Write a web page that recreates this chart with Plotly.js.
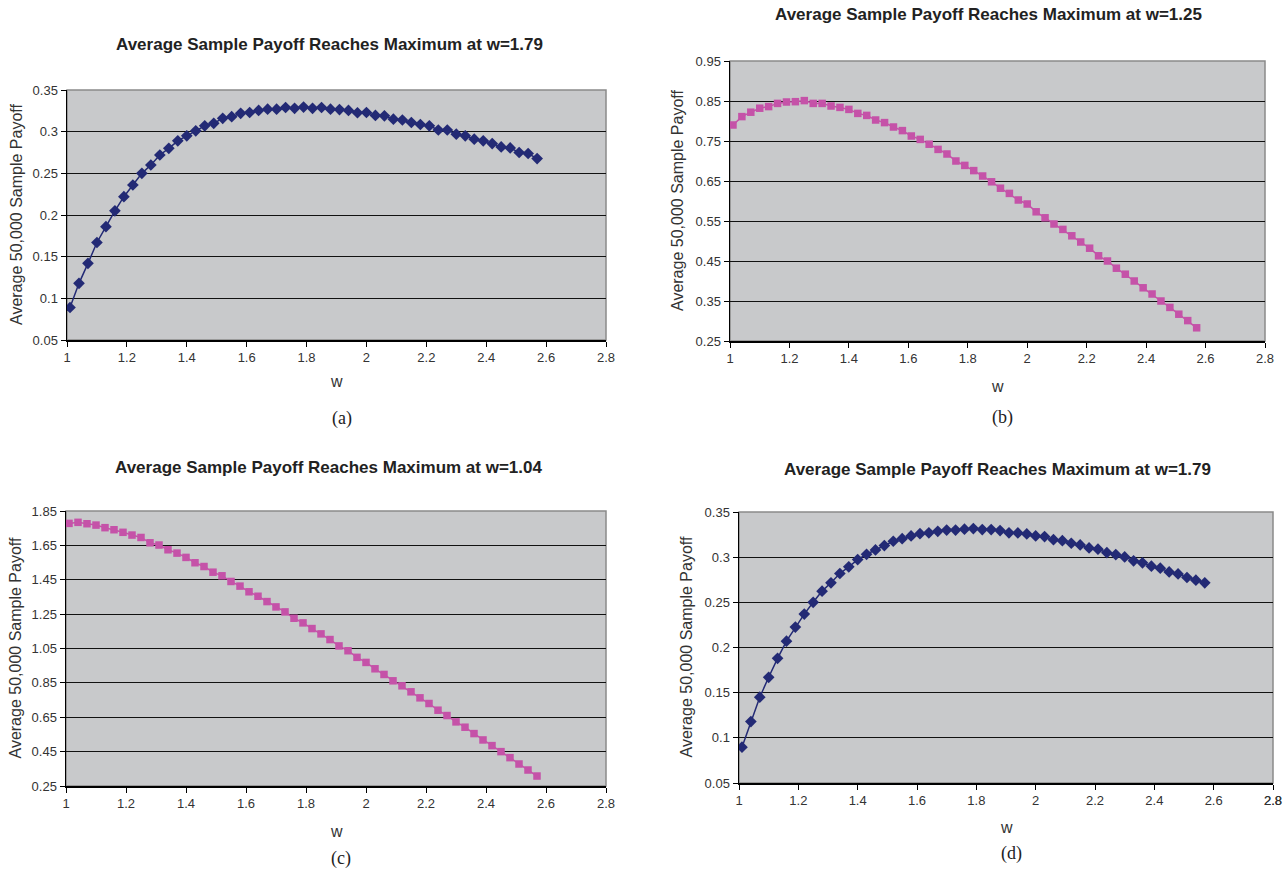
<!DOCTYPE html>
<html>
<head>
<meta charset="utf-8">
<script src="https://cdn.plot.ly/plotly-3.0.1.min.js"></script>
<style>html,body{margin:0;padding:0;background:#fff;}#chart{width:1285px;height:871px;}</style>
</head>
<body>
<div id="chart"></div>
<script>
const w = [1.01,1.04,1.07,1.10,1.13,1.16,1.19,1.22,1.25,1.28,1.31,1.34,1.37,1.40,1.43,1.46,1.49,1.52,1.55,1.58,1.61,1.64,1.67,1.70,1.73,1.76,1.79,1.82,1.85,1.88,1.91,1.94,1.97,2.00,2.03,2.06,2.09,2.12,2.15,2.18,2.21,2.24,2.27,2.30,2.33,2.36,2.39,2.42,2.45,2.48,2.51,2.54,2.57];

const payoffA = [0.089,0.118,0.142,0.167,0.186,0.205,0.222,0.236,0.250,0.260,0.272,0.280,0.289,0.295,0.301,0.307,0.310,0.316,0.318,0.322,0.323,0.3255,0.327,0.327,0.329,0.328,0.3295,0.328,0.329,0.327,0.3265,0.3255,0.3227,0.323,0.3195,0.319,0.315,0.314,0.311,0.3086,0.307,0.302,0.302,0.297,0.295,0.291,0.289,0.2857,0.2817,0.2805,0.275,0.2738,0.2677];

const payoffB = [0.790,0.811,0.822,0.832,0.836,0.844,0.8475,0.8483,0.851,0.844,0.844,0.8375,0.834,0.829,0.819,0.814,0.8025,0.796,0.785,0.776,0.7625,0.754,0.742,0.729,0.7175,0.700,0.689,0.676,0.6625,0.648,0.632,0.619,0.6025,0.5925,0.573,0.558,0.5425,0.529,0.513,0.4975,0.482,0.463,0.450,0.432,0.417,0.400,0.383,0.3675,0.350,0.334,0.317,0.301,0.283];

const payoffC = [1.778,1.784,1.776,1.768,1.753,1.741,1.726,1.710,1.696,1.665,1.652,1.6245,1.605,1.580,1.549,1.527,1.494,1.473,1.440,1.413,1.380,1.354,1.323,1.292,1.263,1.226,1.199,1.166,1.135,1.102,1.065,1.037,0.9985,0.969,0.932,0.899,0.862,0.833,0.798,0.763,0.730,0.691,0.660,0.623,0.592,0.555,0.518,0.485,0.450,0.415,0.378,0.343,0.308];

const payoffD = [0.0897,0.118,0.145,0.167,0.188,0.207,0.2226,0.237,0.250,0.2624,0.2716,0.2819,0.2893,0.2973,0.3032,0.308,0.3128,0.3176,0.3205,0.3235,0.326,0.327,0.3286,0.330,0.330,0.331,0.3316,0.3305,0.3305,0.3294,0.327,0.3268,0.3257,0.3235,0.3228,0.3194,0.3183,0.3154,0.3135,0.3102,0.3088,0.305,0.3029,0.3003,0.296,0.2937,0.290,0.2878,0.2837,0.2815,0.2775,0.2745,0.2716];

const titles = ["Average Sample Payoff Reaches Maximum at w=1.79","Average Sample Payoff Reaches Maximum at w=1.25","Average Sample Payoff Reaches Maximum at w=1.04","Average Sample Payoff Reaches Maximum at w=1.79"];
const panelLabels = ["(a)","(b)","(c)","(d)"];
const yTitle = "Average 50,000 Sample Payoff";
const xTitle = "w";

const W = 1285, H = 871;
const px = x => x / W;
const py = y => 1 - y / H;

const navy = "#232a75";
const magenta = "#c552a8";

// panel geometry in page pixels: [left, right, top, bottom]
const panels = [
  {box:[67,606,90,340], yr:[0.05,0.35], t0:0.05, dt:0.05, data:payoffA, color:navy, sym:"diamond", size:9, titleY:44, titleX:330, wY:381, labY:418, yTitX:17},
  {box:[730,1265,61,341], yr:[0.25,0.95], t0:0.25, dt:0.1, data:payoffB, color:magenta, sym:"square", size:7.5, titleY:14, titleX:988, wY:386, labY:417, yTitX:677},
  {box:[66,606,511,786], yr:[0.25,1.85], t0:0.25, dt:0.2, data:payoffC, color:magenta, sym:"square", size:7.5, titleY:467, titleX:328, wY:831, labY:858, yTitX:15},
  {box:[739,1273,512,783], yr:[0.05,0.35], t0:0.05, dt:0.05, data:payoffD, color:navy, sym:"diamond", size:9, titleY:469, titleX:997, wY:827, labY:853, yTitX:686}
];

const traces = [];
const layout = {
  width: W, height: H,
  margin: {l:0, r:0, t:0, b:0},
  paper_bgcolor: "#ffffff",
  showlegend: false,
  font: {family: "Liberation Sans, Arial, sans-serif", color: "#222"},
  annotations: [],
  shapes: []
};

panels.forEach((p, i) => {
  const n = i + 1;
  const xa = "xaxis" + (n === 1 ? "" : n);
  const ya = "yaxis" + (n === 1 ? "" : n);
  const xr = "x" + (n === 1 ? "" : n);
  const yr = "y" + (n === 1 ? "" : n);
  traces.push({
    x: w, y: p.data, xaxis: xr, yaxis: yr,
    type: "scatter", mode: "lines+markers",
    line: {color: p.color, width: 1.5},
    marker: {symbol: p.sym, size: p.size, color: p.color},
    hoverinfo: "skip"
  });
  const [l, r, t, b] = p.box;
  layout[xa] = {
    domain: [px(l), px(r)], anchor: yr,
    range: [1, 2.8], tick0: 1, dtick: 0.2, tickmode: "linear",
    showgrid: false, zeroline: false,
    showline: true, linecolor: "#000", linewidth: 1.5,
    ticks: "outside", ticklen: 5, tickcolor: "#000", tickwidth: 1,
    tickfont: {size: 13, color: "#333"}
  };
  layout[ya] = {
    domain: [py(b), py(t)], anchor: xr,
    range: p.yr, tick0: p.t0, dtick: p.dt, tickmode: "linear",
    showgrid: true, gridcolor: "#111", gridwidth: 1,
    zeroline: false,
    showline: true, linecolor: "#000", linewidth: 1.5,
    ticks: "outside", ticklen: 5, tickcolor: "#000", tickwidth: 1,
    tickfont: {size: 13, color: "#333"}
  };
  layout.shapes.push({
    type: "rect", xref: "paper", yref: "paper",
    x0: px(l), x1: px(r), y0: py(b), y1: py(t),
    fillcolor: "#c8c9cb", line: {color: "#8a8a8a", width: 1.5}, layer: "below"
  });
  layout.annotations.push({
    text: "<b>" + titles[i] + "</b>", xref: "paper", yref: "paper",
    x: px(p.titleX), y: py(p.titleY), xanchor: "center", yanchor: "middle",
    showarrow: false, font: {size: 17, family: "Liberation Sans, Arial, sans-serif", color: "#222"}
  });
  layout.annotations.push({
    text: yTitle, xref: "paper", yref: "paper",
    x: px(p.yTitX), y: py((t + b) / 2), xanchor: "center", yanchor: "middle",
    textangle: -90, showarrow: false, font: {size: 16, color: "#333"}
  });
  layout.annotations.push({
    text: xTitle, xref: "paper", yref: "paper",
    x: px((l + r) / 2), y: py(p.wY), xanchor: "center", yanchor: "middle",
    showarrow: false, font: {size: 16, color: "#333"}
  });
  layout.annotations.push({
    text: panelLabels[i], xref: "paper", yref: "paper",
    x: px((l + r) / 2 + 5), y: py(p.labY), xanchor: "center", yanchor: "middle",
    showarrow: false, font: {size: 18, family: "Liberation Serif, Times New Roman, serif", color: "#222"}
  });
});

// last x tick label of panel (d) sits at the page edge (partly cut off in the reference)
layout.annotations.push({
  text: "2.8", xref: "x4", yref: "paper", x: 2.8, y: py(800), xanchor: "center", yanchor: "middle",
  showarrow: false, font: {size: 13, color: "#333"}
});

Plotly.newPlot("chart", traces, layout, {staticPlot: true, displayModeBar: false});
</script>
</body>
</html>
